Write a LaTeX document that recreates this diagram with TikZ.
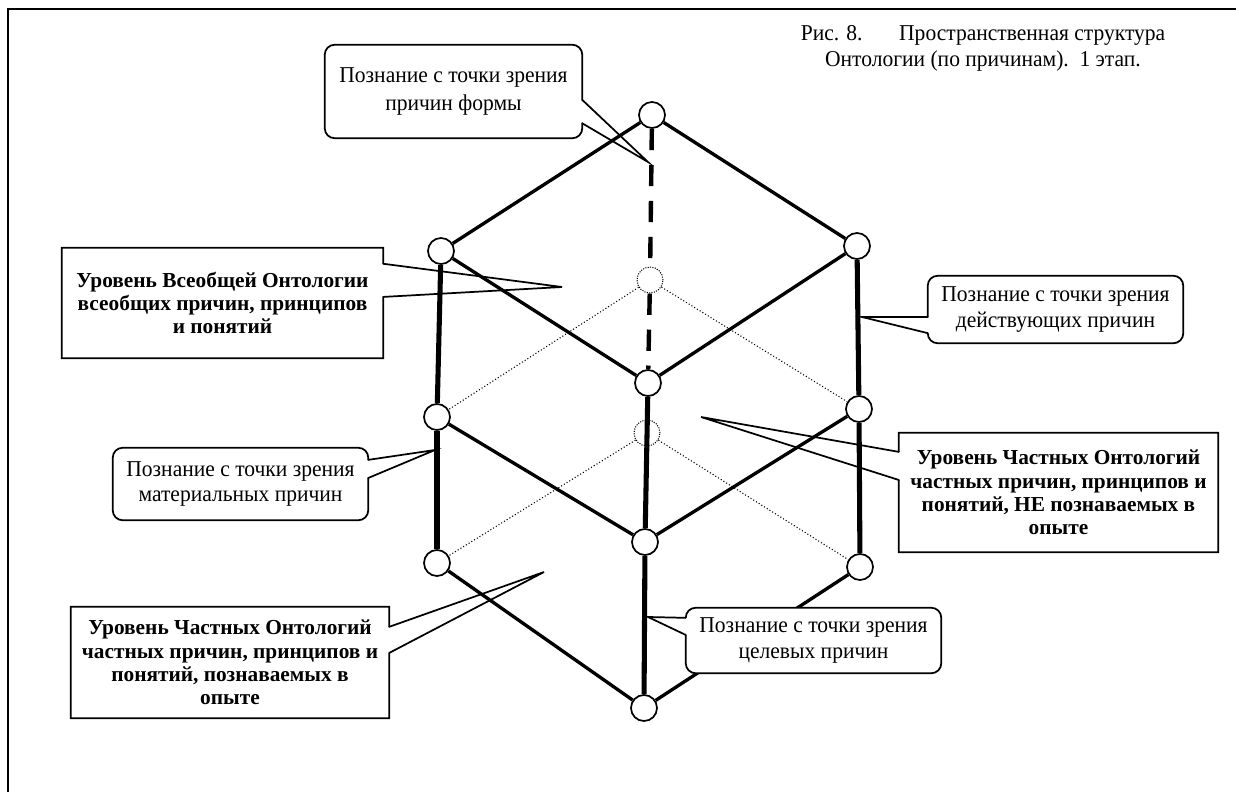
\documentclass[tikz,border=0pt]{standalone}
\usepackage{fontspec}
\setmainfont{Liberation Serif}
\newfontfamily\tallfont[FakeStretch=0.95]{Liberation Serif}
\usepackage{tikz}
\usetikzlibrary{calc}
\def\tailbox[#1](#2:#3:#4)(#5:#6)(#7){\draw[#1] ($(#2.north #3)!#6!(#2.south #3)$) -- (#2.south #3) -- (#2.south #4) -- (#2.north #4) -- (#2.north #3) -- ($(#2.north #3)!#5!(#2.south #3)$); \draw[#1,sharp corners] ($(#2.north #3)!#5!(#2.south #3)$) -- (#7) -- ($(#2.north #3)!#6!(#2.south #3)$);}

\begin{document}
\begin{tikzpicture}[x=0.75pt, y=-0.75pt,
		vtx/.style={circle, draw, fill=white, line width=1.3pt, minimum size=19.5pt, inner sep=0pt},
		hid/.style={circle, draw, densely dotted, line width=0.8pt, minimum size=19.5pt, inner sep=0pt},
		rib/.style={line width=2.5pt},
		post/.style={line width=3.8pt},
		back/.style={line width=0.8pt, dash pattern=on 0.8pt off 1.6pt},
		axis/.style={line width=3.3pt, dash pattern=on 16pt off 11pt},
		callbox/.style={fill=white, rounded corners=7.5pt, inner sep=0pt, align=center, font=\tallfont\fontsize{17pt}{19pt}\selectfont},
		boldbox/.style={fill=white, inner sep=0pt, align=center, font=\fontsize{16pt}{17.5pt}\selectfont\bfseries},
		callline/.style={line width=1.3pt, rounded corners=7.5pt, line cap=round},
		boldline/.style={line width=1.3pt, line cap=round}]
			%%%%% START %%%%%
			
			\useasboundingbox (0,0) rectangle (1236,792);
			\draw[line width=1.5pt] (1236,9) -- (8,9) -- (8,792);
			
			\node[font=\tallfont\fontsize{17pt}{20pt}\selectfont, align=center] (title) at (983,48.5) {Рис. 8.\hspace{1.3em} Пространственная структура\\Онтологии (по причинам).\ \ 1 этап.};
			
			\node[vtx] (T) at (652,115) {};
			\node[vtx] (L1) at (441,251) {};
			\node[vtx] (R1) at (857,246) {};
			\node[vtx] (F1) at (648,383) {};
			\node[vtx] (L2) at (437,417) {};
			\node[vtx] (R2) at (859,409) {};
			\node[vtx] (F2) at (645,542) {};
			\node[vtx] (L3) at (437,563) {};
			\node[vtx] (R3) at (860,567) {};
			\node[vtx] (F3) at (644,708) {};
			\node[hid] (B1) at (650,280) {};
			\node[hid] (B2) at (647,433) {};
			
			\draw[back] (B1) -- (L2);
			\draw[back] (B1) -- (R2);
			\draw[back] (B2) -- (L3);
			\draw[back] (B2) -- (R3);
			
			\draw[axis] (T) -- (B1);
			\draw[axis] (B1) -- (F1);
			
			\draw[rib] (T) -- (L1);
			\draw[rib] (T) -- (R1);
			\draw[rib] (L1) -- (F1);
			\draw[rib] (R1) -- (F1);
			\draw[rib] (L2) -- (F2);
			\draw[rib] (R2) -- (F2);
			\draw[rib] (L3) -- (F3);
			\draw[rib] (R3) -- (F3);
			
			\draw[post] (L1) -- (L2);
			\draw[post] (L2) -- (L3);
			\draw[post] (R1) -- (R2);
			\draw[post] (R2) -- (R3);
			\draw[post] (F1) -- (F2);
			\draw[post] (F2) -- (F3);
			
			\coordinate (tForm) at (648,162);
			\coordinate (tAct) at (862,317);
			\coordinate (tMat) at (435,450);
			\coordinate (tGoal) at (648,617);
			\coordinate (tAll) at (562,287);
			\coordinate (tKnown) at (544,572);
			\coordinate (tUnk) at (701,417);
			
			\node[callbox, minimum width=192.75pt, minimum height=69.75pt, font=\tallfont\fontsize{17pt}{21.5pt}\selectfont] (cForm) at (453.5,91.5) {Познание с точки зрения\\причин формы};
			\tailbox[callline](cForm:east:west)(0.59:0.84)(tForm)
			
			\node[callbox, minimum width=191.25pt, minimum height=50.25pt] (cAct) at (1055.5,309.5) {Познание с точки зрения\\действующих причин};
			\tailbox[callline](cAct:west:east)(0.61:0.85)(tAct)
			
			\node[callbox, minimum width=191.25pt, minimum height=54pt] (cMat) at (240.5,484) {Познание с точки зрения\\материальных причин};
			\tailbox[callline](cMat:east:west)(0.167:0.417)(tMat)
			
			\node[callbox, minimum width=191.25pt, minimum height=48.75pt] (cGoal) at (813.5,640.5) {Познание с точки зрения\\целевых причин};
			\tailbox[callline](cGoal:west:east)(0.154:0.415)(tGoal)
			
			\node[boldbox, minimum width=240.75pt, minimum height=82.5pt] (bAll) at (222.5,303) {Уровень Всеобщей Онтологии\\всеобщих причин, принципов\\и понятий};
			\tailbox[boldline](bAll:east:west)(0.145:0.445)(tAll)
			
			\node[boldbox, minimum width=238.5pt, minimum height=83.25pt] (bKnown) at (230,662.5) {Уровень Частных Онтологий\\частных причин, принципов и\\понятий, познаваемых в\\опыте};
			\tailbox[boldline](bKnown:east:west)(0.18:0.414)(tKnown)
			
			\node[boldbox, minimum width=239.25pt, minimum height=89.25pt] (bUnk) at (1058.5,492.5) {Уровень Частных Онтологий\\частных причин, принципов и\\понятий, НЕ познаваемых в\\опыте};
			\tailbox[boldline](bUnk:west:east)(0.16:0.395)(tUnk)
			
			%%%%% END %%%%%
\end{tikzpicture}
\end{document}
